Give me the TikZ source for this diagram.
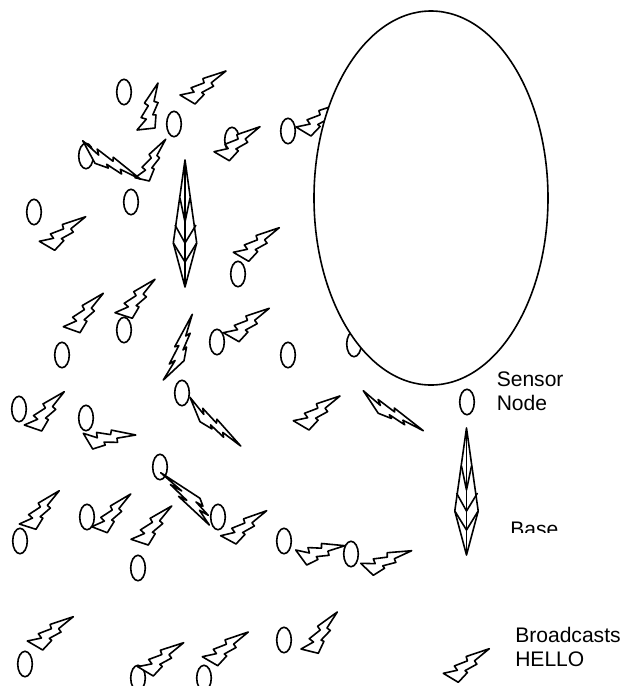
\documentclass[tikz,border=0pt]{standalone}
\usepackage{fontspec}
\setmainfont{Liberation Sans}
\tikzset{
    sensornode/.style={draw=black, line width=1.2pt},
    boltline/.style={draw=black, fill=white, line width=1.2pt, line join=round},
    baseline/.style={draw=black, line width=1.2pt, line join=round},
    bigarea/.style={draw=black, fill=white, line width=1.2pt},
    labeltext/.style={inner sep=0pt, align=left, text=black, font=\fontsize{15.8}{18}\selectfont},
}
% tip, tail and lower corner of one bolt, in pixels of the picture
\newcommand{\boltmark}[6]{
    \begin{scope}[shift={(#1,#2)}, x={({(#3-#1)*0.75pt},{(#2-#4)*0.75pt})}, y={({(#5-#1)*0.75pt},{(#2-#6)*0.75pt})}]
        \draw[boltline] (0,0) -- (0.683,-0.267) -- (0.457,0.027) -- (0.817,-0.085) -- (0.518,0.262) -- (1,0)
            -- (0,1) -- (-0.006,0.716) -- (0.171,0.527) -- (-0.077,0.516) -- (0.156,0.246) -- cycle;
    \end{scope}
}
\newcommand{\basemark}[2]{
    \begin{scope}[shift={(#1,#2)}]
        \draw[baseline] (0,0) -- (-11.7,83) -- (0,127) -- (11.7,83) -- cycle;
        \draw[baseline] (0,0) -- (0,127);
        \draw[baseline] (-10,65) -- (0,83) -- (11,65);
        \draw[baseline] (-11.7,83) -- (0,102) -- (11.7,83);
        \draw[baseline] (-5,38) -- (0,62) -- (5,38);
    \end{scope}
}

\begin{document}
\begin{tikzpicture}[x=0.75pt, y=-0.75pt]
    \clip (0,0) rectangle (627,686);

    % sensor nodes
    \foreach \x/\y in {124/92, 174/124, 232/140, 86/156, 288/131, 131/202, 34/212, 238/274,
        124/330, 62/355, 217/342, 288/355, 354/344, 19/409, 86/418, 182/393, 160/467,
        20/541, 87/517, 138/568, 218/517, 284/541, 351/554, 25/664, 138/678, 204/678, 284/640, 467/402}
        \draw[sensornode] (\x,\y) ellipse (7.3 and 12.7);

    % bolts
    \foreach \tx/\ty/\ax/\ay/\bx/\by in {226/71/180/95/195/104, 158/83/137/130/155/128, 165.7/139.3/135/177.7/149.3/181,
        140.7/179.3/82.7/140.7/95/163.3, 260/126.7/214/151.7/229.3/160.7, 342/103/296/127/311/136,
        85.7/216.7/39.3/241.3/54.7/250.3, 279.3/227.7/233.3/252.3/248.7/261.3, 103.3/293.3/63.3/326.7/80/332.7,
        155/279.3/115/312.7/132.3/318.3, 192.3/314.3/163.3/380/184/360.7, 269.3/308.3/223.3/332.7/239/341.7,
        64.3/391.7/24.3/425/41.7/431, 135.7/435/83.3/433.3/92.7/449, 240.7/446/190/397.3/200/421.7,
        340/396/293.3/420.7/309/430, 423.3/430.7/363.3/390.7/378.3/413.3, 59.3/490.7/19.3/524/36/529.3,
        130.7/494/91.7/526.7/107.3/532.7, 171.7/506/131/539.3/148.3/545, 209.3/525/160.7/472.7/200/498.3,
        266.7/510.7/220.7/535.7/236/544, 345/545.7/295.7/550/306.7/565, 411.7/550.7/360.7/563.3/373.3/575.3,
        73.3/616.7/27.3/641/42.7/650, 183.7/642.7/137.7/666.7/153.3/676, 248.3/632/202.3/656.7/217.7/665.7,
        337.3/612/301/649/318.3/653.3, 489.3/648.7/443.3/673.3/458.3/682.3}
        \boltmark{\tx}{\ty}{\ax}{\ay}{\bx}{\by};

    % base stations
    \basemark{185}{160}
    \basemark{466.5}{428}

    % big area covers what lies under it
    \draw[bigarea] (431,198) ellipse (117 and 187);

    % legend
    \node[labeltext, anchor=north west] (sensorlabel) at (496.5,372) {Sensor\\Node};
    \begin{scope}
        \clip (500,500) rectangle (600,532);
        \node[labeltext, anchor=base west] (baselabel) at (510,536) {Base};
    \end{scope}
    \node[labeltext, anchor=north west] (hellolabel) at (515,627) {Broadcasts\\HELLO};
\end{tikzpicture}
\end{document}
